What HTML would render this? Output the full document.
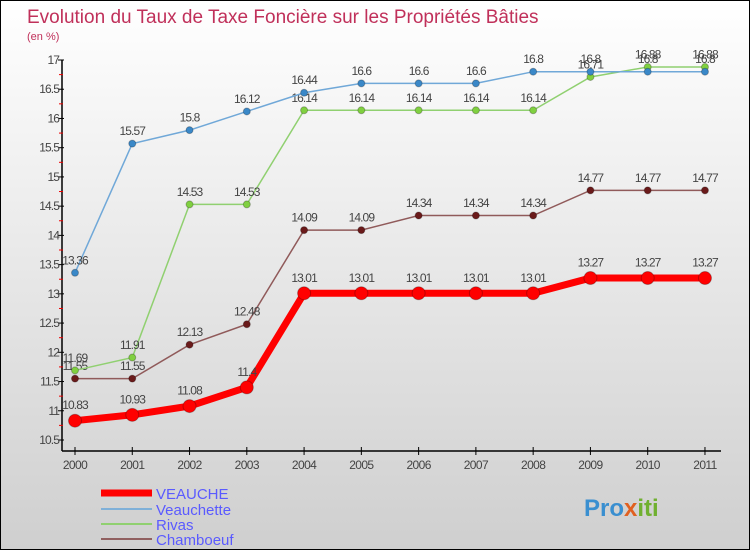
<!DOCTYPE html>
<html><head><meta charset="utf-8"><style>
body{margin:0}
#c{width:748px;height:548px;border:1px solid #000;background:linear-gradient(#ffffff,#cfcfcf);position:relative;overflow:hidden;font-family:"Liberation Sans",sans-serif}
</style></head><body>
<div id="c">
<svg id="s" width="748" height="548" xmlns="http://www.w3.org/2000/svg">
<text x="26" y="22" font-size="19" fill="#c0305a">Evolution du Taux de Taxe Foncière sur les Propriétés Bâties</text>
<text x="26" y="39" font-size="11" fill="#c0305a">(en %)</text>
<g id="axes"></g><g id="series"></g>
<g>
<line x1="100" y1="492" x2="151" y2="492" stroke="#f00" stroke-width="7"/>
<text x="155" y="498" font-size="15" fill="#5a5aff">VEAUCHE</text>
<line x1="100" y1="508" x2="151" y2="508" stroke="#7fb0d8" stroke-width="2"/>
<text x="155" y="514" font-size="15" fill="#5a5aff">Veauchette</text>
<line x1="100" y1="523" x2="151" y2="523" stroke="#90d070" stroke-width="2"/>
<text x="155" y="529" font-size="15" fill="#5a5aff">Rivas</text>
<line x1="100" y1="538" x2="151" y2="538" stroke="#906060" stroke-width="2"/>
<text x="155" y="544" font-size="15" fill="#5a5aff">Chamboeuf</text>
</g>
<text x="583" y="515" font-size="24" font-weight="bold" fill="#3a8fd0">Pro<tspan fill="#e06020">x</tspan><tspan fill="#70b030">iti</tspan></text>
</svg>
</div>
<script>
const years=["2000","2001","2002","2003","2004","2005","2006","2007","2008","2009","2010","2011"];
const veauche=[10.83,10.93,11.08,11.4,13.01,13.01,13.01,13.01,13.01,13.27,13.27,13.27];
const veauchette=[13.36,15.57,15.8,16.12,16.44,16.6,16.6,16.6,16.8,16.8,16.8,16.8];
const rivas=[11.69,11.91,14.53,14.53,16.14,16.14,16.14,16.14,16.14,16.71,16.88,16.88];
const chamboeuf=[11.55,11.55,12.13,12.48,14.09,14.09,14.34,14.34,14.34,14.77,14.77,14.77];
const yTicks=[10.5,11,11.5,12,12.5,13,13.5,14,14.5,15,15.5,16,16.5,17];
const NS="http://www.w3.org/2000/svg";
const X=i=>74+i*57.27;
const Y=v=>59+(17-v)*58.46;
function mk(t,a,p){const e=document.createElementNS(NS,t);for(const k in a)e.setAttribute(k,a[k]);p.appendChild(e);return e;}
const ax=document.getElementById('axes');
const ya=mk('line',{x1:61,y1:Y(17),x2:61,y2:450,stroke:'#000','stroke-width':1.5},ax);


const xa=mk('line',{x1:61,y1:450,x2:720,y2:450,stroke:'#000','stroke-width':1.5},ax);


yTicks.forEach(v=>{
 mk('line',{x1:57,y1:Y(v),x2:63,y2:Y(v),stroke:'#000'},ax);
 if(v<17)mk('line',{x1:58,y1:Y(v+0.25),x2:62,y2:Y(v+0.25),stroke:'#e00'},ax);
 const t=mk('text',{x:58,y:Y(v)+4,'font-size':12,fill:'#444','text-anchor':'end','letter-spacing':'-0.9'},ax);
 t.textContent=String(v);
 
 
});
years.forEach((y,i)=>{
 mk('line',{x1:X(i),y1:446,x2:X(i),y2:454,stroke:'#000'},ax);
 const t=mk('text',{x:X(i),y:468,'font-size':12,fill:'#444','text-anchor':'middle','letter-spacing':'-0.6'},ax);
 t.textContent=y;
 
 
});
const sg=document.getElementById('series');
function series(name,vals,color,dot,w,r){
 const g=mk('g',{},sg);
 
 
 mk('polyline',{points:vals.map((v,i)=>X(i)+','+Y(v)).join(' '),fill:'none',stroke:color,'stroke-width':w},g);
 vals.forEach((v,i)=>{
  const c=mk('circle',{cx:X(i),cy:Y(v),r:r,fill:dot,stroke:'rgba(0,0,0,0.25)'},g);
  
  
  const t=mk('text',{x:X(i),y:Y(v)-r-5,'font-size':12,fill:'#444','text-anchor':'middle','letter-spacing':'-0.9'},g);
  t.textContent=String(v);
  
  
 });
}
series('chamboeuf',chamboeuf,'#905a5a','#6a1a1a',1.5,3.5);
series('rivas',rivas,'#90d070','#80d040',1.5,3.5);
series('veauchette',veauchette,'#70a8d8','#3a88c8',1.5,3.5);
series('veauche',veauche,'#f00','#f00',7,6.5);
</script>
</body></html>
